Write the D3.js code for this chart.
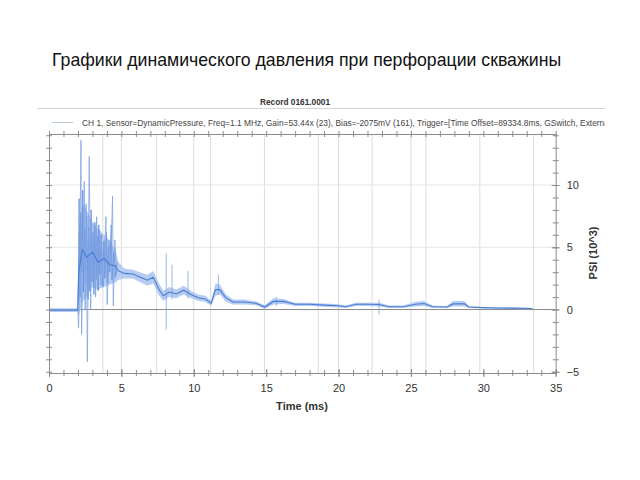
<!DOCTYPE html>
<html>
<head>
<meta charset="utf-8">
<script src="https://d3js.org/d3.v7.min.js"></script>
<style>
  body { margin: 0; background: #fff; }
  svg { display: block; font-family: "Liberation Sans", Arial, sans-serif; }
</style>
</head>
<body>
<div id="chart"></div>
<script>
// Dynamic pressure record 0161.0001

// x axis (ms) and y axis (PSI x 10^3) ticks
var timeTicks = [0, 5, 10, 15, 20, 25, 30, 35];
var psiTicks = [-5, 0, 5, 10];

// vertical grid lines (two sets in the original plot)
var gridMajor = [5, 10, 20, 25];
var gridMarks = [3.72, 7.44, 11.16, 14.88, 18.6, 22.32, 26.04, 29.76, 33.48];
var gridPsi = [5, 10];

// signal envelope (time, low, high) and centre trace
var bandT = [0, 1.98, 2.05, 2.3, 2.6, 3.0, 3.4, 3.8, 4.2, 4.6, 4.8, 5.2, 5.8, 6.3, 6.8, 7.2, 7.6, 7.9, 8.3, 8.8, 9.3, 9.8, 10.3, 10.8, 11.2, 11.5, 11.8, 12.2, 12.7, 13.5, 14.3, 14.9, 15.5, 16.2, 17.0, 18.0, 19.0, 20.0, 20.5, 21.2, 22.0, 22.8, 23.5, 24.5, 25.3, 25.9, 26.5, 27.5, 27.9, 28.7, 29.0, 30.0, 31.0, 32.0, 33.4];
var bandLow = [-0.2, -0.2, -0.5, 0.6, 1.0, 1.8, 1.6, 1.8, 2.0, 2.2, 2.4, 2.5, 2.5, 2.2, 1.9, 2.1, 1.1, 0.7, 1.0, 0.9, 1.2, 0.9, 0.7, 0.6, 0.3, 1.1, 1.2, 0.65, 0.4, 0.4, 0.35, 0.05, 0.4, 0.45, 0.28, 0.28, 0.22, 0.17, 0.12, 0.28, 0.28, 0.25, 0.12, 0.14, 0.24, 0.28, 0.12, 0.12, 0.25, 0.25, 0.12, 0.09, 0.06, 0.05, 0.03];
var bandHigh = [0.1, 0.1, 6.0, 8.5, 8.0, 7.0, 6.5, 6.0, 5.5, 4.8, 3.8, 3.3, 3.2, 3.0, 2.8, 3.1, 2.1, 1.5, 1.8, 1.6, 1.9, 1.5, 1.2, 1.1, 0.7, 2.1, 2.0, 1.25, 0.8, 0.8, 0.65, 0.35, 0.9, 0.85, 0.55, 0.55, 0.48, 0.42, 0.32, 0.55, 0.55, 0.55, 0.32, 0.32, 0.62, 0.68, 0.32, 0.28, 0.68, 0.68, 0.28, 0.2, 0.18, 0.16, 0.13];
var traceV = [-0.05, -0.05, 3.0, 4.8, 4.2, 4.6, 3.8, 4.1, 3.6, 3.5, 3.1, 2.9, 2.85, 2.6, 2.35, 2.6, 1.6, 1.1, 1.4, 1.25, 1.55, 1.2, 0.95, 0.85, 0.5, 1.6, 1.6, 0.95, 0.6, 0.6, 0.5, 0.2, 0.65, 0.65, 0.42, 0.42, 0.35, 0.3, 0.22, 0.42, 0.42, 0.4, 0.22, 0.22, 0.42, 0.48, 0.22, 0.2, 0.45, 0.45, 0.2, 0.15, 0.12, 0.11, 0.08];

// ringing right after the shot: large swings and the denser inner swings
var oscT = [2.0, 2.04, 2.10, 2.21, 2.25, 2.44, 2.50, 2.56, 2.65, 2.78, 2.88, 2.94, 3.0, 3.13, 3.22, 3.29, 3.36, 3.47, 3.56, 3.63, 3.75, 3.93, 4.02, 4.14, 4.26, 4.39, 4.44, 4.55, 4.65, 4.75];
var oscV = [0, -1.5, 1.5, 13.6, -2.0, 10.3, 0, 8.5, -4.2, 12.3, 0, 7.2, 2.6, 7.0, 1.0, 7.45, 1.6, 6.4, 2.0, 5.8, 1.8, 7.45, 0.4, 5.6, 3.7, 9.1, 0.3, 5.6, 3.0, 3.1];
var osc2T = [2.02, 2.08, 2.14, 2.18, 2.28, 2.33, 2.38, 2.47, 2.53, 2.60, 2.70, 2.74, 2.83, 2.91, 2.97, 3.05, 3.10, 3.17, 3.25, 3.33, 3.40, 3.44, 3.52, 3.60, 3.68, 3.80, 3.86, 3.97, 4.06, 4.10, 4.20, 4.30, 4.35, 4.48, 4.60, 4.70];
var osc2V = [0.5, 8.9, 1.0, 7.8, 3.0, 9.6, 1.4, 6.5, 2.0, 7.5, 0.8, 6.6, 1.5, 8.0, 2.2, 6.2, 1.2, 7.0, 2.4, 5.9, 1.5, 6.8, 2.8, 6.0, 1.9, 5.5, 2.5, 6.2, 2.1, 5.0, 3.0, 6.8, 2.4, 4.6, 2.6, 3.8];

// isolated spikes later in the record
var spikeT = [8.1, 8.5, 9.6, 11.7, 15.7, 22.8];
var spikeLow = [-1.6, 0.8, 0.9, 1.2, 0.3, -0.4];
var spikeHigh = [4.5, 3.6, 3.1, 2.8, 1.0, 0.8];

(function() {
  var W = 640, H = 480;
  var pL = 49, pR = 555.7, pT = 134, pB = 373;

  var svg = d3.select('#chart').append('svg')
    .attr('width', W)
    .attr('height', H);

  svg.append('rect').attr('width', W).attr('height', H).attr('fill', '#fff');

  // Title
  svg.append('text')
    .attr('x', 52)
    .attr('y', 66)
    .attr('font-size', 17.7)
    .attr('fill', '#111')
    .text('Графики динамического давления при перфорации скважины');

  // Header of the recorder screenshot
  svg.append('text')
    .attr('x', 295)
    .attr('y', 105)
    .attr('text-anchor', 'middle')
    .attr('font-size', 8.3)
    .attr('font-weight', 'bold')
    .attr('fill', '#333')
    .text('Record 0161.0001');

  svg.append('line')
    .attr('x1', 37).attr('x2', 605)
    .attr('y1', 108.5).attr('y2', 108.5)
    .attr('stroke', '#d4d4d4');

  svg.append('clipPath').attr('id', 'legclip')
    .append('rect').attr('x', 0).attr('y', 110).attr('width', 605).attr('height', 22);

  var legend = svg.append('g').attr('clip-path', 'url(#legclip)');
  legend.append('line')
    .attr('x1', 52).attr('x2', 73)
    .attr('y1', 122.5).attr('y2', 122.5)
    .attr('stroke', '#b8c8dc');
  legend.append('text')
    .attr('x', 82)
    .attr('y', 125.5)
    .attr('font-size', 8.4)
    .attr('fill', '#444')
    .text('CH 1, Sensor=DynamicPressure, Freq=1.1 MHz, Gain=53.44x (23), Bias=-2075mV (161), Trigger=[Time Offset=89334.8ms, GSwitch, External]');

  // Scales
  var x = d3.scaleLinear().domain([0, 35]).range([pL, pR]);
  var y = d3.scaleLinear().domain([-5.1, 14.1]).range([pB, pT]);

  // Grid
  var grid = svg.append('g');
  grid.selectAll('line.gv')
    .data(gridMajor.concat(gridMarks))
    .join('line')
    .attr('class', 'gv')
    .attr('x1', function(d) { return x(d); })
    .attr('x2', function(d) { return x(d); })
    .attr('y1', pT).attr('y2', pB)
    .attr('stroke', '#dcdcdc');
  grid.selectAll('line.gh')
    .data(gridPsi)
    .join('line')
    .attr('class', 'gh')
    .attr('x1', pL).attr('x2', pR)
    .attr('y1', function(d) { return y(d); })
    .attr('y2', function(d) { return y(d); })
    .attr('stroke', '#e6e6e6');
  // zero line
  grid.append('line')
    .attr('x1', pL).attr('x2', pR)
    .attr('y1', y(0)).attr('y2', y(0))
    .attr('stroke', '#8a8a8a');

  // Data
  svg.append('clipPath').attr('id', 'plotclip')
    .append('rect').attr('x', pL).attr('y', pT).attr('width', pR - pL).attr('height', pB - pT);
  var plot = svg.append('g').attr('clip-path', 'url(#plotclip)');

  var bandData = bandT.map(function(t, i) {
    return { t: t, lo: bandLow[i], hi: bandHigh[i], v: traceV[i] };
  });

  plot.append('path')
    .datum(bandData)
    .attr('fill', '#a9c3ee')
    .attr('fill-opacity', 0.85)
    .attr('d', d3.area()
      .x(function(d) { return x(d.t); })
      .y0(function(d) { return y(d.lo); })
      .y1(function(d) { return y(d.hi); }));

  plot.selectAll('line.spike')
    .data(spikeT)
    .join('line')
    .attr('class', 'spike')
    .attr('x1', function(d) { return x(d); })
    .attr('x2', function(d) { return x(d); })
    .attr('y1', function(d, i) { return y(spikeLow[i]); })
    .attr('y2', function(d, i) { return y(spikeHigh[i]); })
    .attr('stroke', '#7fa3e3')
    .attr('stroke-width', 0.8);

  var lineXY = d3.line()
    .x(function(d) { return x(d[0]); })
    .y(function(d) { return y(d[1]); });

  plot.append('path')
    .datum(osc2T.map(function(t, i) { return [t, osc2V[i]]; }))
    .attr('fill', 'none')
    .attr('stroke', '#5f8ddc')
    .attr('stroke-width', 0.8)
    .attr('d', lineXY);

  plot.append('path')
    .datum(oscT.map(function(t, i) { return [t, oscV[i]]; }))
    .attr('fill', 'none')
    .attr('stroke', '#7fa3e3')
    .attr('stroke-width', 0.8)
    .attr('d', lineXY);

  plot.append('path')
    .datum(bandData)
    .attr('fill', 'none')
    .attr('stroke', '#4a7bd4')
    .attr('stroke-width', 1.1)
    .attr('d', d3.line()
      .x(function(d) { return x(d.t); })
      .y(function(d) { return y(d.v); }));

  // Frame + axes
  var axisColor = '#8c8c8c';

  function crossTicks(g, horizontal) {
    g.select('.domain').attr('stroke', axisColor);
    g.selectAll('.tick line').attr('stroke', axisColor);
    if (horizontal) g.selectAll('.tick line').attr('y1', -3).attr('y2', 3);
    else g.selectAll('.tick line').attr('x1', -3).attr('x2', 3);
  }

  var minorX = d3.range(0, 36, 1);
  var minorY = d3.range(-5, 15, 1);

  var gTop = svg.append('g').attr('transform', 'translate(0,' + pT + ')')
    .call(d3.axisTop(x).tickValues(minorX).tickFormat('').tickSizeOuter(0));
  crossTicks(gTop, true);

  var gLeft = svg.append('g').attr('transform', 'translate(' + pL + ',0)')
    .call(d3.axisLeft(y).tickValues(minorY).tickFormat('').tickSizeOuter(0));
  crossTicks(gLeft, false);

  var gBot = svg.append('g').attr('transform', 'translate(0,' + pB + ')')
    .call(d3.axisBottom(x).tickValues(minorX).tickFormat('').tickSizeOuter(0));
  crossTicks(gBot, true);
  var gBotLab = svg.append('g').attr('transform', 'translate(0,' + pB + ')')
    .call(d3.axisBottom(x).tickValues(timeTicks).tickSize(4).tickPadding(7));
  gBotLab.select('.domain').remove();
  gBotLab.selectAll('.tick line').attr('stroke', axisColor).attr('y1', -4).attr('y2', 4);
  gBotLab.selectAll('.tick text')
    .attr('font-size', 11)
    .attr('fill', '#333')
    .attr('font-family', '"Liberation Sans", Arial, sans-serif');

  var gRight = svg.append('g').attr('transform', 'translate(' + pR + ',0)')
    .call(d3.axisRight(y).tickValues(minorY).tickFormat('').tickSizeOuter(0));
  crossTicks(gRight, false);
  var gRightLab = svg.append('g').attr('transform', 'translate(' + pR + ',0)')
    .call(d3.axisRight(y).tickValues(psiTicks).tickSize(4).tickPadding(7));
  gRightLab.select('.domain').remove();
  gRightLab.selectAll('.tick line').attr('stroke', axisColor).attr('x1', -4).attr('x2', 4);
  gRightLab.selectAll('.tick text')
    .attr('font-size', 11)
    .attr('fill', '#333')
    .attr('font-family', '"Liberation Sans", Arial, sans-serif');

  // Axis titles
  svg.append('text')
    .attr('x', 302)
    .attr('y', 410)
    .attr('text-anchor', 'middle')
    .attr('font-size', 11)
    .attr('font-weight', 'bold')
    .attr('fill', '#333')
    .text('Time (ms)');

  svg.append('text')
    .attr('transform', 'translate(597,253) rotate(-90)')
    .attr('text-anchor', 'middle')
    .attr('font-size', 11)
    .attr('font-weight', 'bold')
    .attr('fill', '#333')
    .text('PSI (10^3)');
})();
</script>
</body>
</html>
